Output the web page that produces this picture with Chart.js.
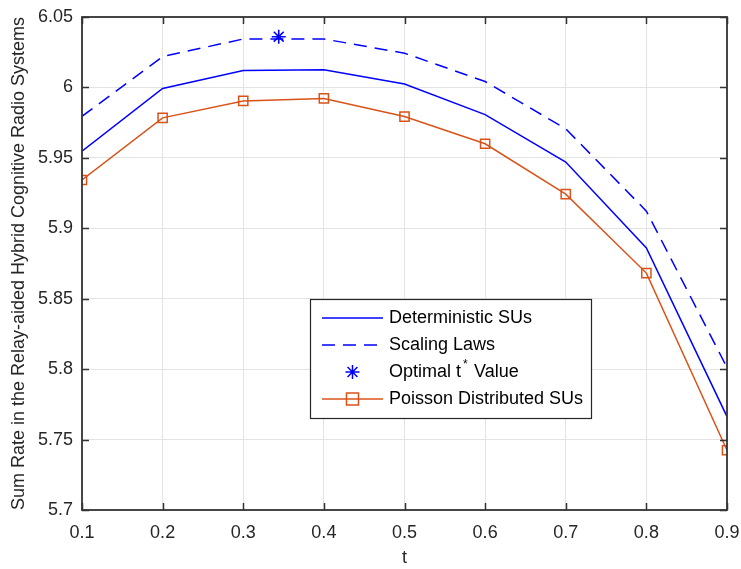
<!DOCTYPE html>
<html>
<head>
<meta charset="utf-8">
<script src="https://cdn.jsdelivr.net/npm/chart.js@4.4.1/dist/chart.umd.min.js"></script>
<style>
  html, body { margin: 0; padding: 0; background: #fff; }
  canvas { display: block; }
</style>
</head>
<body>
<canvas id="rateChart" width="741" height="569"></canvas>
<script>
// data
const tValues = [0.1, 0.2, 0.3, 0.4, 0.5, 0.6, 0.7, 0.8, 0.9];
const deterministicSUs = [5.9548, 5.9993, 6.0120, 6.0125, 6.0024, 5.9807, 5.9470, 5.8860, 5.7663];
const scalingLaws = [5.9795, 6.0219, 6.0344, 6.0344, 6.0243, 6.0042, 5.9706, 5.9122, 5.8012];
const poissonSUs = [5.9343, 5.9784, 5.9904, 5.9922, 5.9793, 5.9600, 5.9242, 5.8682, 5.7424];
const optimalT = [0.344];
const optimalRate = [6.036];

const xTicks = [0.1, 0.2, 0.3, 0.4, 0.5, 0.6, 0.7, 0.8, 0.9];
const xTickLabels = ['0.1', '0.2', '0.3', '0.4', '0.5', '0.6', '0.7', '0.8', '0.9'];
const yTicks = [5.7, 5.75, 5.8, 5.85, 5.9, 5.95, 6, 6.05];
const yTickLabels = ['5.7', '5.75', '5.8', '5.85', '5.9', '5.95', '6', '6.05'];

const BLUE = '#0000ff';
const ORANGE = '#d95319';
const FONT = 'Liberation Sans, Arial, Helvetica, sans-serif';

const toPoints = (xs, ys) => xs.map((x, i) => ({ x: x, y: ys[i] }));

// MATLAB style box with inward ticks on every side
const framePlugin = {
    id: 'frame',
    afterDraw(chart) {
        const ctx = chart.ctx;
        const a = chart.chartArea;
        const xs = chart.scales.x, ys = chart.scales.y;
        const tl = 7;
        ctx.save();
        ctx.strokeStyle = '#333333';
        ctx.lineWidth = 1.5;
        ctx.beginPath();
        xTicks.forEach(v => {
            const px = Math.round(xs.getPixelForValue(v)) + 0.5;
            ctx.moveTo(px, a.bottom); ctx.lineTo(px, a.bottom - tl);
            ctx.moveTo(px, a.top); ctx.lineTo(px, a.top + tl);
        });
        yTicks.forEach(v => {
            const py = Math.round(ys.getPixelForValue(v)) + 0.5;
            ctx.moveTo(a.left, py); ctx.lineTo(a.left + tl, py);
            ctx.moveTo(a.right, py); ctx.lineTo(a.right - tl, py);
        });
        ctx.stroke();
        ctx.lineWidth = 1.8;
        ctx.strokeRect(a.left, a.top, a.right - a.left, a.bottom - a.top);
        ctx.restore();
    }
};

// legend box placed inside the axes like the original
const legendPlugin = {
    id: 'boxLegend',
    afterDraw(chart) {
        const ctx = chart.ctx;
        const bx = 310, by = 299, bw = 281, bh = 119;
        const rowY = [318, 345, 372, 399];
        const x0 = 322, x1 = 383, tx = 389;
        ctx.save();
        ctx.fillStyle = '#fff';
        ctx.fillRect(bx, by, bw, bh);
        ctx.strokeStyle = '#262626';
        ctx.lineWidth = 1.2;
        ctx.strokeRect(bx + 0.5, by + 0.5, bw, bh);

        ctx.lineWidth = 1.5;
        // solid
        ctx.strokeStyle = BLUE;
        ctx.beginPath(); ctx.moveTo(x0, rowY[0]); ctx.lineTo(x1, rowY[0]); ctx.stroke();
        // dashed
        ctx.setLineDash([13, 8]);
        ctx.beginPath(); ctx.moveTo(x0, rowY[1]); ctx.lineTo(x1, rowY[1]); ctx.stroke();
        ctx.setLineDash([]);
        // star marker
        const cx = (x0 + x1) / 2, r = 7;
        ctx.beginPath();
        for (let k = 0; k < 4; k++) {
            const ang = k * Math.PI / 4;
            ctx.moveTo(cx - r * Math.cos(ang), rowY[2] - r * Math.sin(ang));
            ctx.lineTo(cx + r * Math.cos(ang), rowY[2] + r * Math.sin(ang));
        }
        ctx.stroke();
        // line with square
        ctx.strokeStyle = ORANGE;
        ctx.beginPath(); ctx.moveTo(x0, rowY[3]); ctx.lineTo(x1, rowY[3]); ctx.stroke();
        ctx.strokeRect(cx - 6, rowY[3] - 6, 12, 12);

        ctx.fillStyle = '#000';
        ctx.font = '18px ' + FONT;
        ctx.textBaseline = 'middle';
        ctx.textAlign = 'left';
        ctx.fillText('Deterministic SUs', tx, rowY[0]);
        ctx.fillText('Scaling Laws', tx, rowY[1]);
        ctx.fillText('Optimal t', tx, rowY[2]);
        const w = ctx.measureText('Optimal t').width;
        ctx.font = '12px ' + FONT;
        ctx.fillText('*', tx + w + 2, rowY[2] - 7);
        ctx.font = '18px ' + FONT;
        ctx.fillText('Value', tx + w + 13, rowY[2]);
        ctx.fillText('Poisson Distributed SUs', tx, rowY[3]);
        ctx.restore();
    }
};

const config = {
    type: 'line',
    data: {
        datasets: [
            {
                label: 'Deterministic SUs',
                data: toPoints(tValues, deterministicSUs),
                borderColor: BLUE,
                borderWidth: 1.5,
                pointRadius: 0,
                tension: 0
            },
            {
                label: 'Scaling Laws',
                data: toPoints(tValues, scalingLaws),
                borderColor: BLUE,
                borderWidth: 1.5,
                borderDash: [13, 8],
                pointRadius: 0,
                tension: 0
            },
            {
                label: 'Optimal t* Value',
                data: toPoints(optimalT, optimalRate),
                borderColor: BLUE,
                backgroundColor: BLUE,
                showLine: false,
                pointStyle: 'star',
                pointRadius: 7,
                pointBorderWidth: 1.6
            },
            {
                label: 'Poisson Distributed SUs',
                data: toPoints(tValues, poissonSUs),
                borderColor: ORANGE,
                borderWidth: 1.5,
                pointStyle: 'rect',
                pointRadius: 6.5,
                pointBorderWidth: 1.5,
                pointBackgroundColor: 'rgba(0,0,0,0)',
                pointBorderColor: ORANGE,
                tension: 0
            }
        ]
    },
    options: {
        responsive: false,
        animation: false,
        devicePixelRatio: 1,
        layout: { padding: { top: 17, right: 14, left: 0, bottom: 0 } },
        plugins: {
            legend: { display: false },
            tooltip: { enabled: false }
        },
        scales: {
            x: {
                type: 'linear',
                min: 0.1,
                max: 0.9,
                afterBuildTicks: scale => { scale.ticks = xTicks.map(v => ({ value: v })); },
                afterFit: scale => {
                    scale.height = 59;
                    scale.paddingLeft = 0;
                    scale.paddingRight = 0;
                },
                grid: { color: '#e3e3e3', lineWidth: 1, drawTicks: false },
                border: { display: false },
                ticks: {
                    padding: 12,
                    color: '#262626',
                    font: { family: FONT, size: 18 },
                    maxRotation: 0,
                    callback: (v, i) => xTickLabels[i]
                },
                title: {
                    display: true,
                    text: 't',
                    color: '#262626',
                    font: { family: FONT, size: 18 },
                    padding: { top: 0, bottom: 0 }
                }
            },
            y: {
                type: 'linear',
                min: 5.7,
                max: 6.05,
                afterBuildTicks: scale => { scale.ticks = yTicks.map(v => ({ value: v })); },
                afterFit: scale => {
                    scale.width = 82;
                    scale.paddingTop = 0;
                    scale.paddingBottom = 0;
                },
                grid: { color: '#e3e3e3', lineWidth: 1, drawTicks: false },
                border: { display: false },
                ticks: {
                    padding: 9,
                    color: '#262626',
                    font: { family: FONT, size: 18 },
                    callback: (v, i) => yTickLabels[i]
                },
                title: {
                    display: true,
                    text: 'Sum Rate in the Relay-aided Hybrid Cognitive Radio Systems',
                    color: '#262626',
                    font: { family: FONT, size: 18 },
                    padding: { top: 8, bottom: 0 }
                }
            }
        }
    },
    plugins: [framePlugin, legendPlugin]
};

new Chart(document.getElementById('rateChart'), config);
</script>
</body>
</html>
